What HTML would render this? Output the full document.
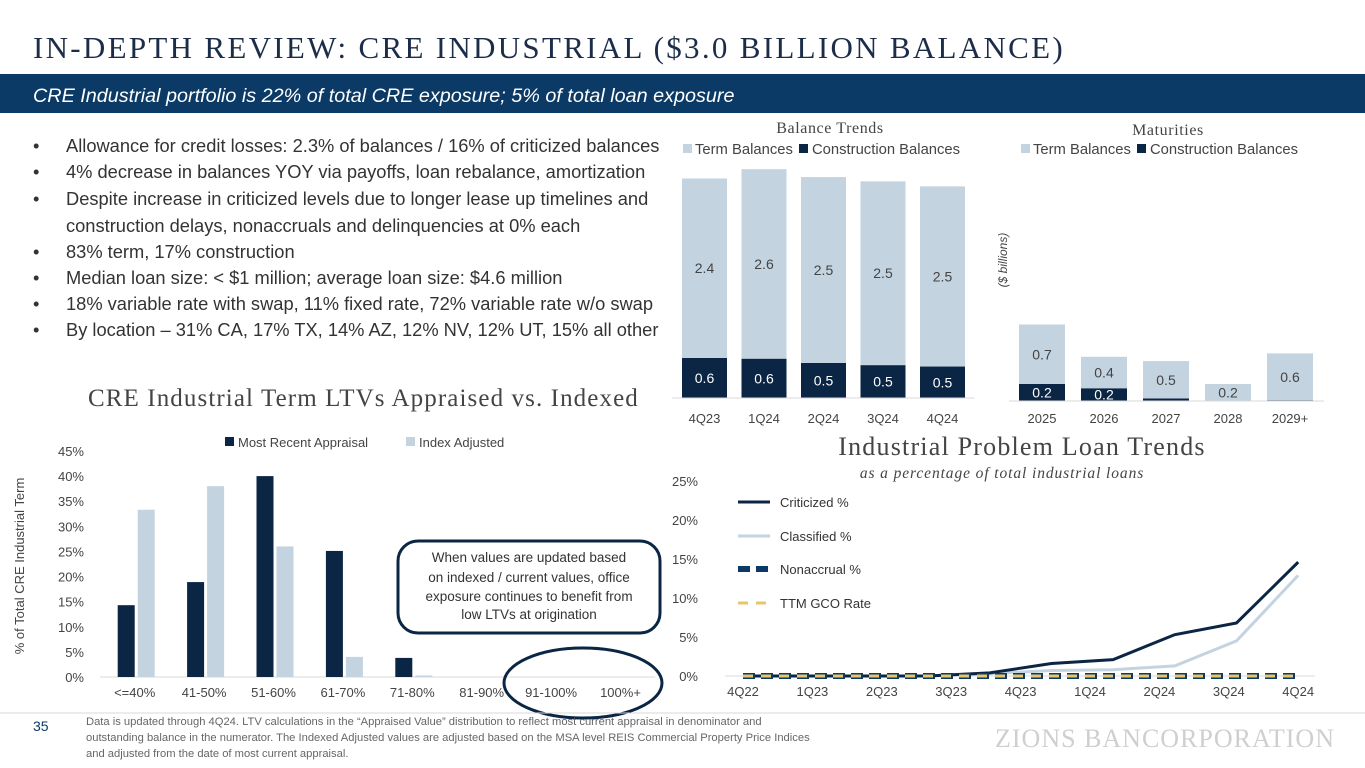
<!DOCTYPE html>
<html><head><meta charset="utf-8"><style>
body{margin:0;width:1365px;height:768px;overflow:hidden;background:#fff;font-family:"Liberation Sans",sans-serif}
svg{display:block}
.serif{font-family:"Liberation Serif",serif}
</style></head><body>
<svg id="s" width="1365" height="768" xmlns="http://www.w3.org/2000/svg">
<text class="serif" x="33" y="58" font-size="31" fill="#1c2d4a" letter-spacing="2.3">IN-DEPTH REVIEW: CRE INDUSTRIAL ($3.0 BILLION BALANCE)</text>
<rect x="0" y="74" width="1365" height="39" fill="#0b3a66"/>
<text x="33" y="102" font-size="19.8" font-style="italic" fill="#fff">CRE Industrial portfolio is 22% of total CRE exposure; 5% of total loan exposure</text>
<g font-size="18.3" fill="#333">
<text x="33" y="152">•</text><text x="66" y="152">Allowance for credit losses: 2.3% of balances / 16% of criticized balances</text>
<text x="33" y="178">•</text><text x="66" y="178">4% decrease in balances YOY via payoffs, loan rebalance, amortization</text>
<text x="33" y="205">•</text><text x="66" y="205">Despite increase in criticized levels due to longer lease up timelines and</text>
<text x="66" y="232">construction delays, nonaccruals and delinquencies at 0% each</text>
<text x="33" y="258">•</text><text x="66" y="258">83% term, 17% construction</text>
<text x="33" y="284">•</text><text x="66" y="284">Median loan size: &lt; $1 million; average loan size: $4.6 million</text>
<text x="33" y="310">•</text><text x="66" y="310">18% variable rate with swap, 11% fixed rate, 72% variable rate w/o swap</text>
<text x="33" y="336">•</text><text x="66" y="336">By location – 31% CA, 17% TX, 14% AZ, 12% NV, 12% UT, 15% all other</text>
</g>
<!-- balance trends -->
<text class="serif" x="830" y="133" font-size="16" letter-spacing="0.6" fill="#444" text-anchor="middle">Balance Trends</text>
<g font-size="14.8" fill="#444">
<rect x="683" y="144" width="9" height="9" fill="#c3d3e0"/><text x="695" y="154">Term Balances</text>
<rect x="799" y="144" width="9" height="9" fill="#0b2545"/><text x="812" y="154">Construction Balances</text></g>
<g id="bal"></g>
<text class="serif" x="1168" y="135" font-size="16" letter-spacing="0.6" fill="#444" text-anchor="middle">Maturities</text>
<g font-size="14.8" fill="#444">
<rect x="1021" y="144" width="9" height="9" fill="#c3d3e0"/><text x="1033" y="154">Term Balances</text>
<rect x="1137" y="144" width="9" height="9" fill="#0b2545"/><text x="1150" y="154">Construction Balances</text></g>
<text x="1007" y="260" font-size="12" font-style="italic" fill="#444" transform="rotate(-90 1007 260)" text-anchor="middle">($ billions)</text>
<g id="mat"></g>
<!-- LTV -->
<text class="serif" x="88" y="406" font-size="25" letter-spacing="1.1" fill="#444">CRE Industrial Term LTVs Appraised vs. Indexed</text>
<g font-size="13" fill="#444">
<rect x="225" y="437" width="9" height="9" fill="#0b2545"/><text x="238" y="447">Most Recent Appraisal</text>
<rect x="406" y="437" width="9" height="9" fill="#c3d3e0"/><text x="419" y="447">Index Adjusted</text></g>
<text x="24" y="566" font-size="13" fill="#444" transform="rotate(-90 24 566)" text-anchor="middle">% of Total CRE Industrial Term</text>
<g id="ltv"></g>
<rect x="398" y="541" width="262" height="92" rx="20" fill="#fff" stroke="#0b2545" stroke-width="3"/>
<g font-size="13.5" fill="#333" text-anchor="middle">
<text x="529" y="562">When values are updated based</text><text x="529" y="582">on indexed / current values, office</text>
<text x="529" y="601">exposure continues to benefit from</text><text x="529" y="619">low LTVs at origination</text></g>
<ellipse cx="583" cy="683" rx="79" ry="35" fill="none" stroke="#0b2545" stroke-width="3"/>
<!-- problem loans -->
<text class="serif" x="1022" y="455" font-size="26" letter-spacing="1.2" fill="#444" text-anchor="middle">Industrial Problem Loan Trends</text>
<text class="serif" x="1002" y="478" font-size="15.5" letter-spacing="0.9" font-style="italic" fill="#444" text-anchor="middle">as a percentage of total industrial loans</text>
<g id="pl"></g>
<g font-size="13" fill="#333">
<line x1="738" y1="502" x2="770" y2="502" stroke="#0b2545" stroke-width="3"/><text x="780" y="507">Criticized %</text>
<line x1="738" y1="536" x2="770" y2="536" stroke="#c3d3e0" stroke-width="3"/><text x="780" y="541">Classified %</text>
<line x1="738" y1="569" x2="770" y2="569" stroke="#0b3a66" stroke-width="6" stroke-dasharray="12,6"/><text x="780" y="574">Nonaccrual %</text>
<line x1="738" y1="603" x2="770" y2="603" stroke="#e8c56a" stroke-width="3" stroke-dasharray="10,8"/><text x="780" y="608">TTM GCO Rate</text></g>
<!-- footer -->
<line x1="0" y1="713" x2="1365" y2="713" stroke="#d8d8d8"/>
<text x="33" y="731" font-size="14" fill="#0b3a66">35</text>
<g font-size="11.2" fill="#666">
<text x="86" y="725">Data is updated through 4Q24.  LTV calculations in the “Appraised Value” distribution to reflect most current appraisal in denominator and</text>
<text x="86" y="741">outstanding balance in the numerator. The Indexed Adjusted values are adjusted based on the MSA level REIS Commercial Property Price Indices</text>
<text x="86" y="757">and adjusted from the date of most current appraisal.</text></g>
<text class="serif" x="1335" y="747" font-size="26" fill="#cfcfcf" text-anchor="end" letter-spacing="1">ZIONS BANCORPORATION</text>
</svg>
<script>
const balCats=["4Q23","1Q24","2Q24","3Q24","4Q24"];
const balCons=[0.56,0.55,0.49,0.46,0.44];
const balTerm=[2.51,2.65,2.6,2.57,2.52];
const balConsLbl=["0.6","0.6","0.5","0.5","0.5"];
const balTermLbl=["2.4","2.6","2.5","2.5","2.5"];
const matCats=["2025","2026","2027","2028","2029+"];
const matCons=[0.2,0.15,0.03,0,0.01];
const matTerm=[0.7,0.37,0.44,0.2,0.55];
const matConsLbl=["0.2","0.2","","",""];
const matTermLbl=["0.7","0.4","0.5","0.2","0.6"];
const ltvCats=["<=40%","41-50%","51-60%","61-70%","71-80%","81-90%","91-100%","100%+"];
const ltvAppr=[14.3,18.9,40,25.1,3.8,0,0,0];
const ltvIdx=[33.3,38,26,4,0.3,0,0,0];
const ltvTicks=[0,5,10,15,20,25,30,35,40,45];
const plCats=["4Q22","1Q23","2Q23","3Q23","4Q23","1Q24","2Q24","3Q24","4Q24"];
const plCrit=[0,0,0,0,0.4,1.6,2.1,5.3,6.8,14.6];
const plClass=[0,0,0,0,0.3,0.7,0.8,1.3,4.5,12.9];
const plNon=[0,0,0,0,0,0,0,0,0,0];
const plGco=[0,0,0,0,0,0,0,0,0,0];
const plTicks=[0,5,10,15,20,25];
const NS="http://www.w3.org/2000/svg";
function mk(p,t,a){const e=document.createElementNS(NS,t);for(const k in a)e.setAttribute(k,a[k]);p.appendChild(e);return e;}
function txt(p,x,y,s,sz,fill,anchor){const e=mk(p,'text',{x:x,y:y,'font-size':sz,fill:fill,'text-anchor':anchor||'middle'});e.textContent=s;return e;}
function stack(g,cats,cons,term,cl,tl,x0,step,w,base,k){
  const y=v=>base-v*k;
  cats.forEach((c,i)=>{const x=x0+i*step;
    const r1=mk(g,'rect',{x:x,y:y(cons[i]),width:w,height:cons[i]*k,fill:'#0b2545'});
    
    
    const r2=mk(g,'rect',{x:x,y:y(cons[i]+term[i]),width:w,height:term[i]*k,fill:'#c3d3e0'});
    
    
    if(cl[i])txt(g,x+w/2,y(cons[i]/2)+5,cl[i],14,'#fff');
    txt(g,x+w/2,y(cons[i]+term[i]/2)+5,tl[i],14,'#444');
    const l=txt(g,x+w/2,423,c,13,'#444');
    
    
  });
  mk(g,'line',{x1:x0-10,y1:base,x2:x0+step*cats.length-5,y2:base,stroke:'#d9d9d9'});
}
stack(document.getElementById('bal'),balCats,balCons,balTerm,balConsLbl,balTermLbl,682,59.5,45,398,71.5);
stack(document.getElementById('mat'),matCats,matCons,matTerm,matConsLbl,matTermLbl,1019,62,46,401,85);
(function(){const g=document.getElementById('ltv');const base=677,k=226/45,x0=100,step=69.4;
 const y=v=>base-v*k;
 ltvTicks.forEach(t=>txt(g,84,y(t)+5,t+'%',13,'#444','end'));
 mk(g,'line',{x1:x0,y1:base,x2:x0+step*8,y2:base,stroke:'#d9d9d9'});
 ltvCats.forEach((c,i)=>{const cx=x0+step*(i+0.5);
  const a=mk(g,'rect',{x:cx-17,y:y(ltvAppr[i]),width:17,height:ltvAppr[i]*k,fill:'#0b2545'});
  
  
  const b=mk(g,'rect',{x:cx+3,y:y(ltvIdx[i]),width:17,height:ltvIdx[i]*k,fill:'#c3d3e0'});
  
  
  txt(g,cx,697,c,13,'#444');});
})();
(function(){const g=document.getElementById('pl');const base=676,k=195/25,x0=743,step=69.4;
 const y=v=>base-v*k;
 plTicks.forEach(t=>txt(g,698,y(t)+5,t+'%',13,'#444','end'));
 mk(g,'line',{x1:725,y1:base,x2:1315,y2:base,stroke:'#d9d9d9'});
 plCats.forEach((c,i)=>txt(g,x0+i*step,696,c,13,'#444'));
 const xp=i=>x0+ i*(step*8/9);
 function line(arr,st,w,dash,name){const p=mk(g,'polyline',{points:arr.map((v,i)=>xp(i)+','+y(v)).join(' '),fill:'none',stroke:st,'stroke-width':w});
  if(dash)p.setAttribute('stroke-dasharray',dash);
  
  }
 line(plClass,'#c3d3e0',3,null,'classified-line');
 line(plCrit,'#0b2545',3,null,'criticized-line');
 line(plNon,'#0b3a66',6,'12,6','nonaccrual-line');
 line(plGco,'#e8c56a',3,'10,8','gco-line');
})();
</script>
</body></html>
